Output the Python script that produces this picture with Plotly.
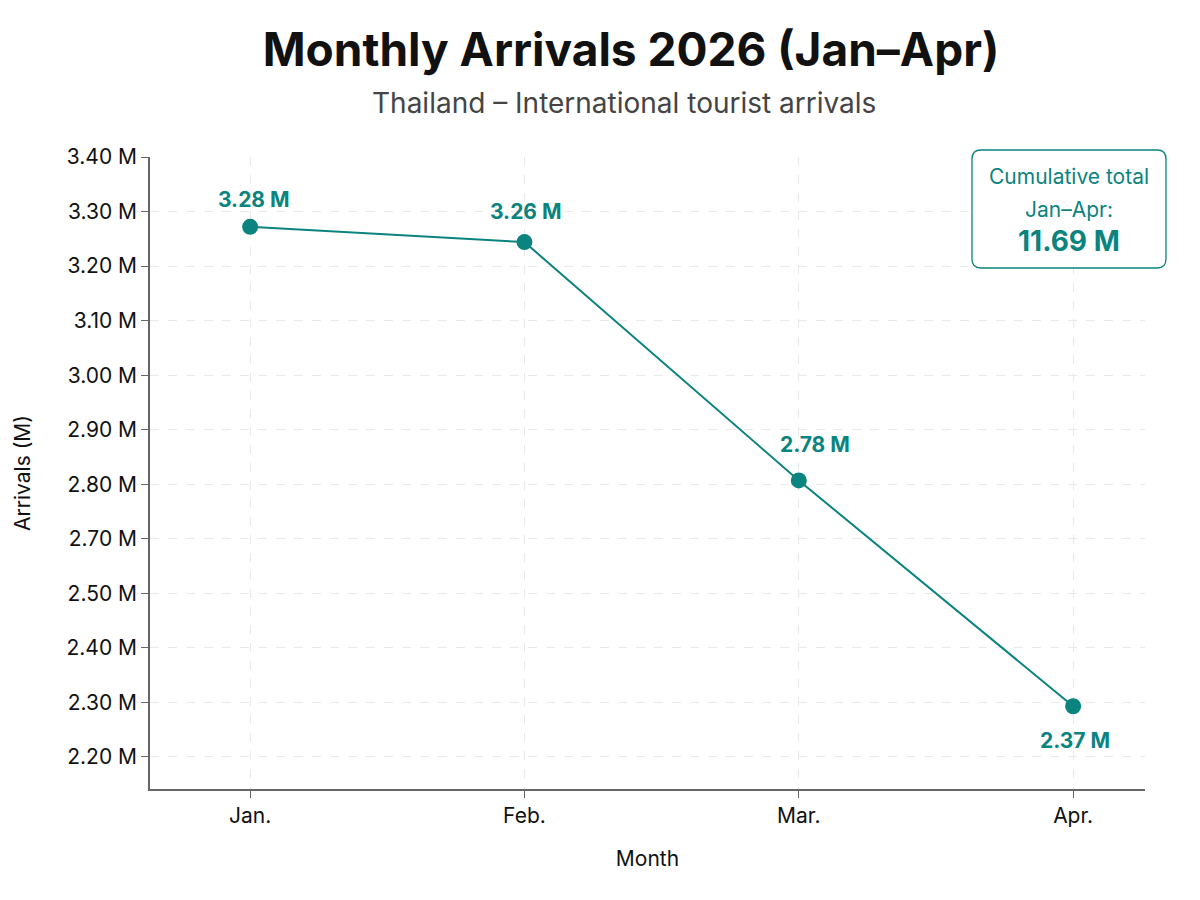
import plotly.graph_objects as go

# ---- data ----
months = ["Jan.", "Feb.", "Mar.", "Apr."]
arrivals_pos = [3.272, 3.244, 2.807, 2.393]          # plotted positions
arrival_labels = ["3.28 M", "3.26 M", "2.78 M", "2.37 M"]
tick_vals = [3.4, 3.3, 3.2, 3.1, 3.0, 2.9, 2.8, 2.7, 2.6, 2.5, 2.4, 2.3]
tick_text = ["3.40 M", "3.30 M", "3.20 M", "3.10 M", "3.00 M", "2.90 M",
             "2.80 M", "2.70 M", "2.50 M", "2.40 M", "2.30 M", "2.20 M"]
label_shift = [27, 31, 36, -34]
label_xshift = [4, 2, 16, 2]
cumulative_text = "11.69 M"

TEAL = "#0b837e"
FONT = "Inter, Roboto, sans-serif"

W, H = 1200, 900
L, R, T, B = 150, 55, 157, 111

fig = go.Figure()
fig.add_trace(go.Scatter(
    x=months, y=arrivals_pos, mode="lines+markers",
    line=dict(color=TEAL, width=2),
    marker=dict(color=TEAL, size=16),
    hoverinfo="skip", showlegend=False,
))

for m, v, t, ys, xs in zip(months, arrivals_pos, arrival_labels, label_shift, label_xshift):
    fig.add_annotation(x=m, y=v, text=f"<b>{t}</b>", showarrow=False,
                       yshift=ys, xshift=xs, xanchor="center", yanchor="middle",
                       font=dict(family=FONT, size=21, color=TEAL))

# rounded box (pixel -> paper)
def px(x):
    return (x - L) / (W - L - R)

def py(y):
    return (H - B - y) / (H - T - B)

x0, x1, y0, y1, r = 972, 1166, 150, 268, 9
path = (f"M {px(x0+r)},{py(y0)} L {px(x1-r)},{py(y0)} Q {px(x1)},{py(y0)} {px(x1)},{py(y0+r)} "
        f"L {px(x1)},{py(y1-r)} Q {px(x1)},{py(y1)} {px(x1-r)},{py(y1)} "
        f"L {px(x0+r)},{py(y1)} Q {px(x0)},{py(y1)} {px(x0)},{py(y1-r)} "
        f"L {px(x0)},{py(y0+r)} Q {px(x0)},{py(y0)} {px(x0+r)},{py(y0)} Z")
fig.add_shape(type="path", path=path, xref="paper", yref="paper",
              line=dict(color=TEAL, width=1.3), fillcolor="white", layer="above")
cx = px((x0 + x1) / 2)
fig.add_annotation(xref="paper", yref="paper", x=cx, y=py(177),
                   text="Cumulative total", showarrow=False,
                   xanchor="center", yanchor="middle",
                   font=dict(family=FONT, size=21, color=TEAL))
fig.add_annotation(xref="paper", yref="paper", x=cx, y=py(209),
                   text="Jan–Apr:", showarrow=False,
                   xanchor="center", yanchor="middle",
                   font=dict(family=FONT, size=21, color=TEAL))
fig.add_annotation(xref="paper", yref="paper", x=cx, y=py(241),
                   text=f"<b>{cumulative_text}</b>", showarrow=False,
                   xanchor="center", yanchor="middle",
                   font=dict(family=FONT, size=28, color=TEAL))

fig.update_layout(
    width=W, height=H,
    margin=dict(l=L, r=R, t=T, b=B),
    paper_bgcolor="white", plot_bgcolor="white",
    title=dict(text="<b>Monthly Arrivals 2026 (Jan–Apr)</b>", x=631 / W, xanchor="center",
               y=1 - 50 / H, yanchor="middle",
               font=dict(family=FONT, size=46, color="#111111")),
    font=dict(family=FONT, color="#111111"),
)
fig.add_annotation(xref="paper", yref="paper", x=px(624), y=py(103),
                   text="Thailand – International tourist arrivals", showarrow=False,
                   xanchor="center", yanchor="middle",
                   font=dict(family=FONT, size=28, color="#444444"))

fig.update_xaxes(
    range=[-0.365, 3.262],
    showline=True, linecolor="#666666", linewidth=1.5,
    ticks="outside", ticklen=7, tickcolor="#666666",
    showgrid=True, gridcolor="#e9e9e9", griddash="dash", gridwidth=1,
    tickfont=dict(family=FONT, size=21, color="#111111"),
    title=dict(text="Month", font=dict(family=FONT, size=21, color="#111111"), standoff=24),
    zeroline=False,
)
fig.update_yaxes(
    range=[2.2413, 3.4],
    tickmode="array", tickvals=tick_vals, ticktext=tick_text,
    showline=True, linecolor="#666666", linewidth=1.5,
    ticks="outside", ticklen=7, tickcolor="#666666",
    showgrid=True, gridcolor="#e9e9e9", griddash="dash", gridwidth=1,
    tickfont=dict(family=FONT, size=21, color="#111111"),
    title=dict(text="Arrivals (M)", font=dict(family=FONT, size=21, color="#111111"), standoff=30),
    zeroline=False,
)

fig.write_html("out.html")
